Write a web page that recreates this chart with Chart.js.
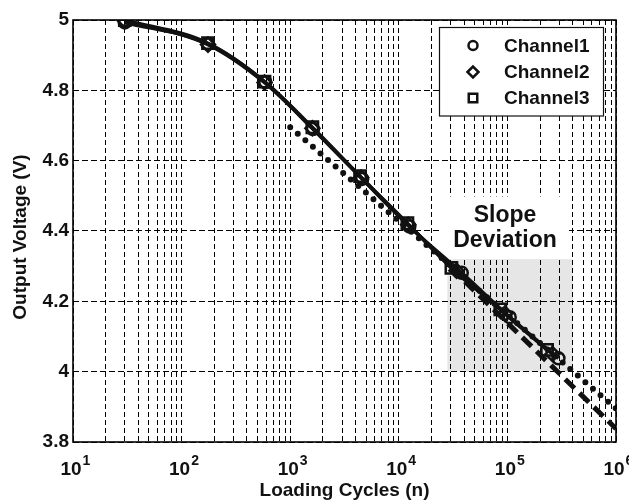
<!DOCTYPE html>
<html>
<head>
<meta charset="utf-8">
<script src="https://cdn.jsdelivr.net/npm/chart.js@4/dist/chart.umd.min.js"></script>
<style>
html,body{margin:0;padding:0;background:#fff;}
#wrap{width:629px;height:500px;}
</style>
</head>
<body>
<div id="wrap"><canvas id="c" width="629" height="500"></canvas></div>
<script>
// ---- data ----
const ch1X = [30, 175, 590, 1620, 4600, 12500, 38000, 105000, 295000];
const ch1Y = [4.993, 4.932, 4.823, 4.690, 4.548, 4.413, 4.281, 4.155, 4.038];
const ch2X = [30, 175, 580, 1600, 4500, 12200, 34000, 95000, 260000];
const ch2Y = [4.998, 4.930, 4.822, 4.692, 4.552, 4.418, 4.287, 4.165, 4.050];
const ch3X = [30, 175, 580, 1600, 4400, 12000, 30500, 86000, 232000];
const ch3Y = [5.000, 4.934, 4.825, 4.695, 4.556, 4.422, 4.295, 4.177, 4.062];
const dotFitX = [1000, 1000000];
const dotFitY = [4.695, 3.895];
const dashFitX = [30000, 1000000];
const dashFitY = [4.296, 3.838];
const shadeX = [28000, 400000];
const shadeY = [4.0, 4.32];
const noteText = ['Slope', 'Deviation'];
const noteAt = [95000, 4.413];
const seriesNames = ['Channel1', 'Channel2', 'Channel3'];
const seriesStyles = ['circle', 'rectRot', 'rect'];
const xDecadeExps = [1, 2, 3, 4, 5, 6];
const xMinorMult = [2, 3, 4, 5, 6, 7, 8, 9];
const yTicks = [3.8, 4.0, 4.2, 4.4, 4.6, 4.8, 5.0];
const xTitle = 'Loading Cycles (n)';
const yTitle = 'Output Voltage (V)';

const FONT = '"Liberation Sans", Arial, Helvetica, sans-serif';
Chart.defaults.font.family = FONT;
Chart.defaults.color = '#000';

const pts = (xs, ys) => xs.map((x, i) => ({x: x, y: ys[i]}));
const xGridVals = [];
xDecadeExps.forEach((e, k) => {
  xGridVals.push(Math.pow(10, e));
  if (k < xDecadeExps.length - 1) xMinorMult.forEach(m => xGridVals.push(m * Math.pow(10, e)));
});

const chanDs = (name, xs, ys, style) => ({
  label: name, data: pts(xs, ys), borderColor: '#111', borderWidth: 3.5,
  pointStyle: style, pointRadius: style === 'rect' ? 8 : (style === 'rectRot' ? 7 : 6),
  pointBorderWidth: 2.5, pointBorderColor: '#111', pointBackgroundColor: 'rgba(255,255,255,0)',
  cubicInterpolationMode: 'monotone', fill: false
});

const bgPlugin = {
  id: 'bg',
  beforeDraw(chart) {
    const {ctx, scales: {x, y}} = chart;
    ctx.save();
    ctx.fillStyle = '#e6e6e6';
    const x0 = x.getPixelForValue(shadeX[0]), x1 = x.getPixelForValue(shadeX[1]);
    const y0 = y.getPixelForValue(shadeY[1]), y1 = y.getPixelForValue(shadeY[0]);
    ctx.fillRect(x0, y0, x1 - x0, y1 - y0);
    ctx.restore();
  },
  beforeDatasetsDraw(chart) {
    const {ctx, scales: {x, y}} = chart;
    const cx = x.getPixelForValue(noteAt[0]), cy = y.getPixelForValue(noteAt[1]);
    ctx.save();
    ctx.fillStyle = '#fff';
    ctx.fillRect(cx - 64, cy - 30, 128, 61);
    ctx.fillStyle = '#111';
    ctx.font = 'bold 23px ' + FONT;
    ctx.textAlign = 'center';
    ctx.textBaseline = 'alphabetic';
    ctx.fillText(noteText[0], cx, cy - 4.5);
    ctx.fillText(noteText[1], cx, cy + 20.5);
    // legend
    const lx = 439.5, ly = 27.5, lw = 164, lh = 88.5;
    ctx.fillStyle = '#fff';
    ctx.fillRect(lx, ly, lw, lh);
    ctx.strokeStyle = '#111';
    ctx.lineWidth = 1.2;
    ctx.strokeRect(lx, ly, lw, lh);
    const rows = [45.5, 72, 98];
    ctx.font = 'bold 19px ' + FONT;
    ctx.textAlign = 'left';
    ctx.textBaseline = 'middle';
    seriesNames.forEach((n, i) => {
      ctx.strokeStyle = '#111';
      ctx.lineWidth = 2.5;
      ctx.fillStyle = 'rgba(0,0,0,0)';
      const r = seriesStyles[i] === 'rect' ? 6 : (seriesStyles[i] === 'rectRot' ? 5.5 : 4.5);
      Chart.helpers.drawPoint(ctx, {pointStyle: seriesStyles[i], radius: r, borderWidth: 2.5}, 473, rows[i]);
      ctx.fillStyle = '#111';
      ctx.fillText(n, 504, rows[i] + 1);
    });
    ctx.restore();
  },
  afterDraw(chart) {
    const {ctx, chartArea: a, scales: {x}} = chart;
    ctx.save();
    ctx.strokeStyle = '#000';
    ctx.lineWidth = 1.6;
    ctx.strokeRect(a.left, a.top, a.right - a.left, a.bottom - a.top);
    // x tick labels 10^n
    ctx.fillStyle = '#111';
    ctx.textBaseline = 'alphabetic';
    xDecadeExps.forEach(e => {
      const px = x.getPixelForValue(Math.pow(10, e));
      ctx.font = 'bold 19px ' + FONT;
      const w = ctx.measureText('10').width;
      ctx.textAlign = 'left';
      ctx.fillText('10', px - 2 - w / 2, 475);
      ctx.font = 'bold 14px ' + FONT;
      ctx.fillText(String(e), px - 2 + w / 2 + 1, 465);
    });
    // y title
    ctx.translate(21, 237);
    ctx.rotate(-Math.PI / 2);
    ctx.font = 'bold 19px ' + FONT;
    ctx.textAlign = 'center';
    ctx.textBaseline = 'middle';
    ctx.fillText(yTitle, 0, 0);
    ctx.restore();
  }
};

new Chart(document.getElementById('c'), {
  type: 'line',
  data: {
    datasets: [
      chanDs(seriesNames[0], ch1X, ch1Y, seriesStyles[0]),
      chanDs(seriesNames[1], ch2X, ch2Y, seriesStyles[1]),
      chanDs(seriesNames[2], ch3X, ch3Y, seriesStyles[2]),
      {label: 'fit1', data: pts(dotFitX, dotFitY), borderColor: '#111', borderWidth: 6,
       borderDash: [0, 10], borderCapStyle: 'round', pointRadius: 0, fill: false},
      {label: 'fit2', data: pts(dashFitX, dashFitY), borderColor: '#111', borderWidth: 5,
       borderDash: [13, 7], borderCapStyle: 'butt', pointRadius: 0, fill: false}
    ]
  },
  options: {
    responsive: false,
    animation: false,
    layout: {padding: {left: 0, right: 13, top: 20, bottom: 0}},
    plugins: {legend: {display: false}, tooltip: {enabled: false}},
    scales: {
      x: {
        type: 'logarithmic', min: 10, max: 1000000,
        afterBuildTicks(s) { s.ticks = xGridVals.map(v => ({value: v})); },
        afterFit(s) { s.height = 58; },
        ticks: {display: false},
        grid: {color: '#000', lineWidth: 1, drawTicks: false},
        border: {display: false, dash: [5, 3]},
        title: {display: true, text: xTitle, font: {size: 19, weight: 'bold', lineHeight: 1}, padding: 0, color: '#111'}
      },
      y: {
        type: 'linear', min: 3.8, max: 5,
        afterBuildTicks(s) { s.ticks = yTicks.map(v => ({value: v})); },
        afterFit(s) { s.width = 73; },
        ticks: {font: {size: 19, weight: 'bold'}, padding: 4, color: '#111',
          callback: v => String(Number(v.toFixed(1)))},
        grid: {color: '#000', lineWidth: 1, drawTicks: false},
        border: {display: false, dash: [6, 3]}
      }
    }
  },
  plugins: [bgPlugin]
});
</script>
</body>
</html>
